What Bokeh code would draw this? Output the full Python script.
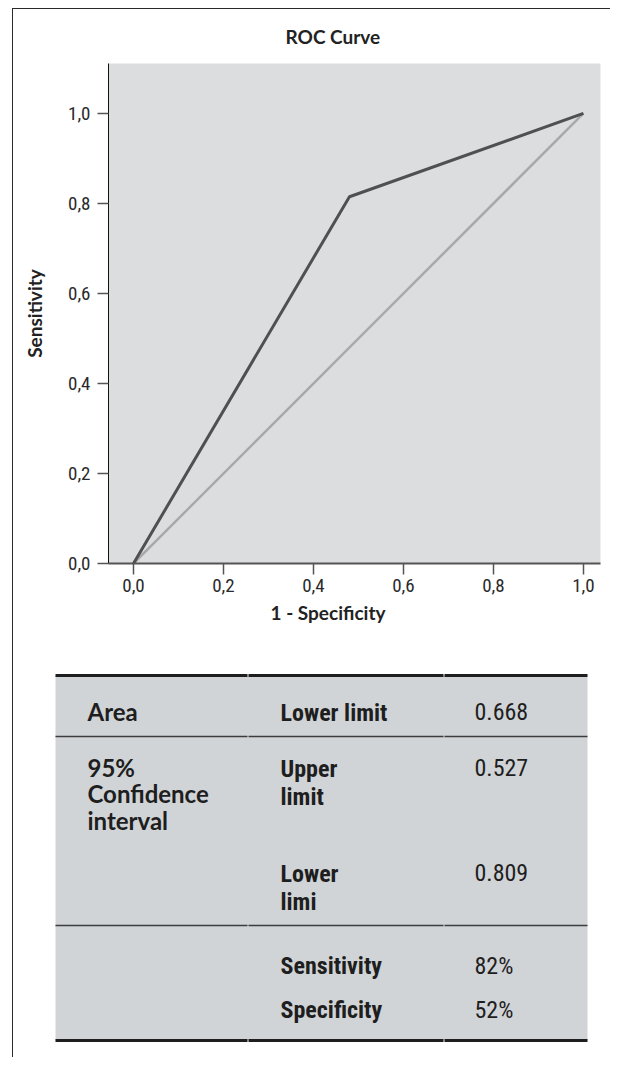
from bokeh.plotting import figure
from bokeh.models import Range1d, FixedTicker, CustomJSTickFormatter, Title
from bokeh.embed import file_html
from bokeh.resources import INLINE
from bokeh.core.properties import value

# ---------------- data ----------------
roc_fpr = [0.0, 0.48, 1.0]          # 1 - specificity
roc_tpr = [0.0, 0.815, 1.0]         # sensitivity
diag_x = [0.0, 1.0]
diag_y = [0.0, 1.0]
tick_values = [0.0, 0.2, 0.4, 0.6, 0.8, 1.0]
tick_labels = ["0,0", "0,2", "0,4", "0,6", "0,8", "1,0"]

chart_title = "ROC Curve"
x_label = "1 - Specificity"
y_label = "Sensitivity"

table_col1 = ["Area", "95%\nConfidence\ninterval", "", "", ""]
table_col2 = ["Lower limit", "Upper\nlimit", "Lower\nlimi", "Sensitivity", "Specificity"]
table_col3 = ["0.668", "0.527", "0.809", "82%", "52%"]

# ---------------- styling ----------------
NARROW = "Liberation Sans Narrow, Roboto Condensed, DejaVu Sans Condensed, Liberation Sans"
HEAD = "Lato"
FRAME_BG = "#dcdddf"
BORDER = "1px solid #2a2a2a"

p = figure(width=598, height=641,
           x_range=Range1d(-0.0556, 1.038), y_range=Range1d(0.0, 1.111),
           output_backend="svg", toolbar_location=None,
           min_border_left=95, min_border_right=11, min_border_top=54, min_border_bottom=87)
p.background_fill_color = FRAME_BG
p.border_fill_color = "white"
p.outline_line_color = None
p.grid.visible = False
p.margin = (8, 0, 0, 12)
p.styles = {"border-top": BORDER, "border-left": BORDER}

p.title = Title(text=chart_title, align="left", offset=177, vertical_align="top",
                text_font=HEAD, text_font_size="19px", text_font_style="bold",
                text_color="#222222", standoff=28)

p.line(diag_x, diag_y, line_color="#a9a9a9", line_width=2.5)
p.line(roc_fpr, roc_tpr, line_color="#505050", line_width=3)

fmt = CustomJSTickFormatter(args=dict(vals=tick_values, labels=tick_labels), code="""
const i = vals.findIndex(v => Math.abs(v - tick) < 1e-9);
return i >= 0 ? labels[i] : "";
""")

for ax in (p.xaxis[0], p.yaxis[0]):
    ax.ticker = FixedTicker(ticks=tick_values)
    ax.formatter = fmt
    ax.major_tick_out = 11
    ax.major_tick_in = 0
    ax.minor_tick_line_color = None
    ax.major_tick_line_color = "#555555"
    ax.major_tick_line_width = 1.5
    ax.major_label_text_font = NARROW
    ax.major_label_text_font_size = "19px"
    ax.major_label_text_color = "#2a2a2a"

p.xaxis.axis_line_color = "#555555"
p.xaxis.axis_line_width = 2
p.xaxis.major_label_standoff = 4
p.yaxis.axis_line_color = "#111111"
p.yaxis.axis_line_width = 1
p.yaxis.major_label_standoff = 7
p.yaxis.axis_label = y_label
p.yaxis.axis_label_text_font = HEAD
p.yaxis.axis_label_text_font_size = "19px"
p.yaxis.axis_label_text_font_style = "bold"
p.yaxis.axis_label_text_color = "#222222"
p.yaxis.axis_label_standoff = 19

p.add_layout(Title(text=x_label, align="left", offset=162,
                   text_font=HEAD, text_font_size="19px", text_font_style="bold",
                   text_color="#222222", standoff=8), "below")

# ---------------- table ----------------
T_W, T_H = 598, 408
t = figure(width=T_W, height=T_H, x_range=Range1d(0, T_W), y_range=Range1d(T_H, 0),
           output_backend="svg", toolbar_location=None,
           min_border=0, min_border_left=0, min_border_right=0,
           min_border_top=0, min_border_bottom=0)
t.axis.visible = False
t.grid.visible = False
t.outline_line_color = None
t.background_fill_color = "white"
t.border_fill_color = "white"
t.margin = (0, 0, 0, 12)
t.styles = {"border-left": BORDER}

tbl_left, tbl_right, tbl_top, tbl_bottom = 42, 574, 26, 391
t.quad(left=[tbl_left], right=[tbl_right], top=[tbl_top], bottom=[tbl_bottom],
       fill_color="#d1d4d7", line_color=None)

col_gaps = [234, 430]
seg_x0 = [tbl_left, col_gaps[0] + 1, col_gaps[1] + 1]
seg_x1 = [col_gaps[0], col_gaps[1], tbl_right]
for yline, w, c in [(tbl_top, 3, "#1e1e1e"), (87, 1.6, "#3c3c3c"),
                    (276, 1.6, "#3c3c3c"), (tbl_bottom, 3, "#1e1e1e")]:
    t.segment(x0=seg_x0, y0=[yline] * 3, x1=seg_x1, y1=[yline] * 3,
              line_color=c, line_width=w)

row_y = [49, 105, 210, 302, 346]   # top of first text line of each row
col_x = [74, 267, 461]
col3_shift = [4, 4, 4, 0, 0]

t.text(x=[col_x[0]] * 5, y=[y - 2 for y in row_y], text=table_col1,
       text_font=value(HEAD), text_font_size="24px", text_font_style="bold",
       text_color="#1e1e1e", text_baseline="top", text_align="left",
       text_line_height=0.92)
t.text(x=[col_x[1]] * 5, y=row_y, text=table_col2,
       text_font=value(NARROW), text_font_size="24px", text_font_style="bold",
       text_color="#1e1e1e", text_baseline="top", text_align="left",
       text_line_height=1.02)
t.text(x=[col_x[2]] * 5, y=[y + s for y, s in zip(row_y, col3_shift)], text=table_col3,
       text_font=value(NARROW), text_font_size="24px", text_font_style="normal",
       text_color="#1e1e1e", text_baseline="top", text_align="left",
       text_line_height=1.02)

open("out.html", "w").write(file_html([p, t], INLINE))
